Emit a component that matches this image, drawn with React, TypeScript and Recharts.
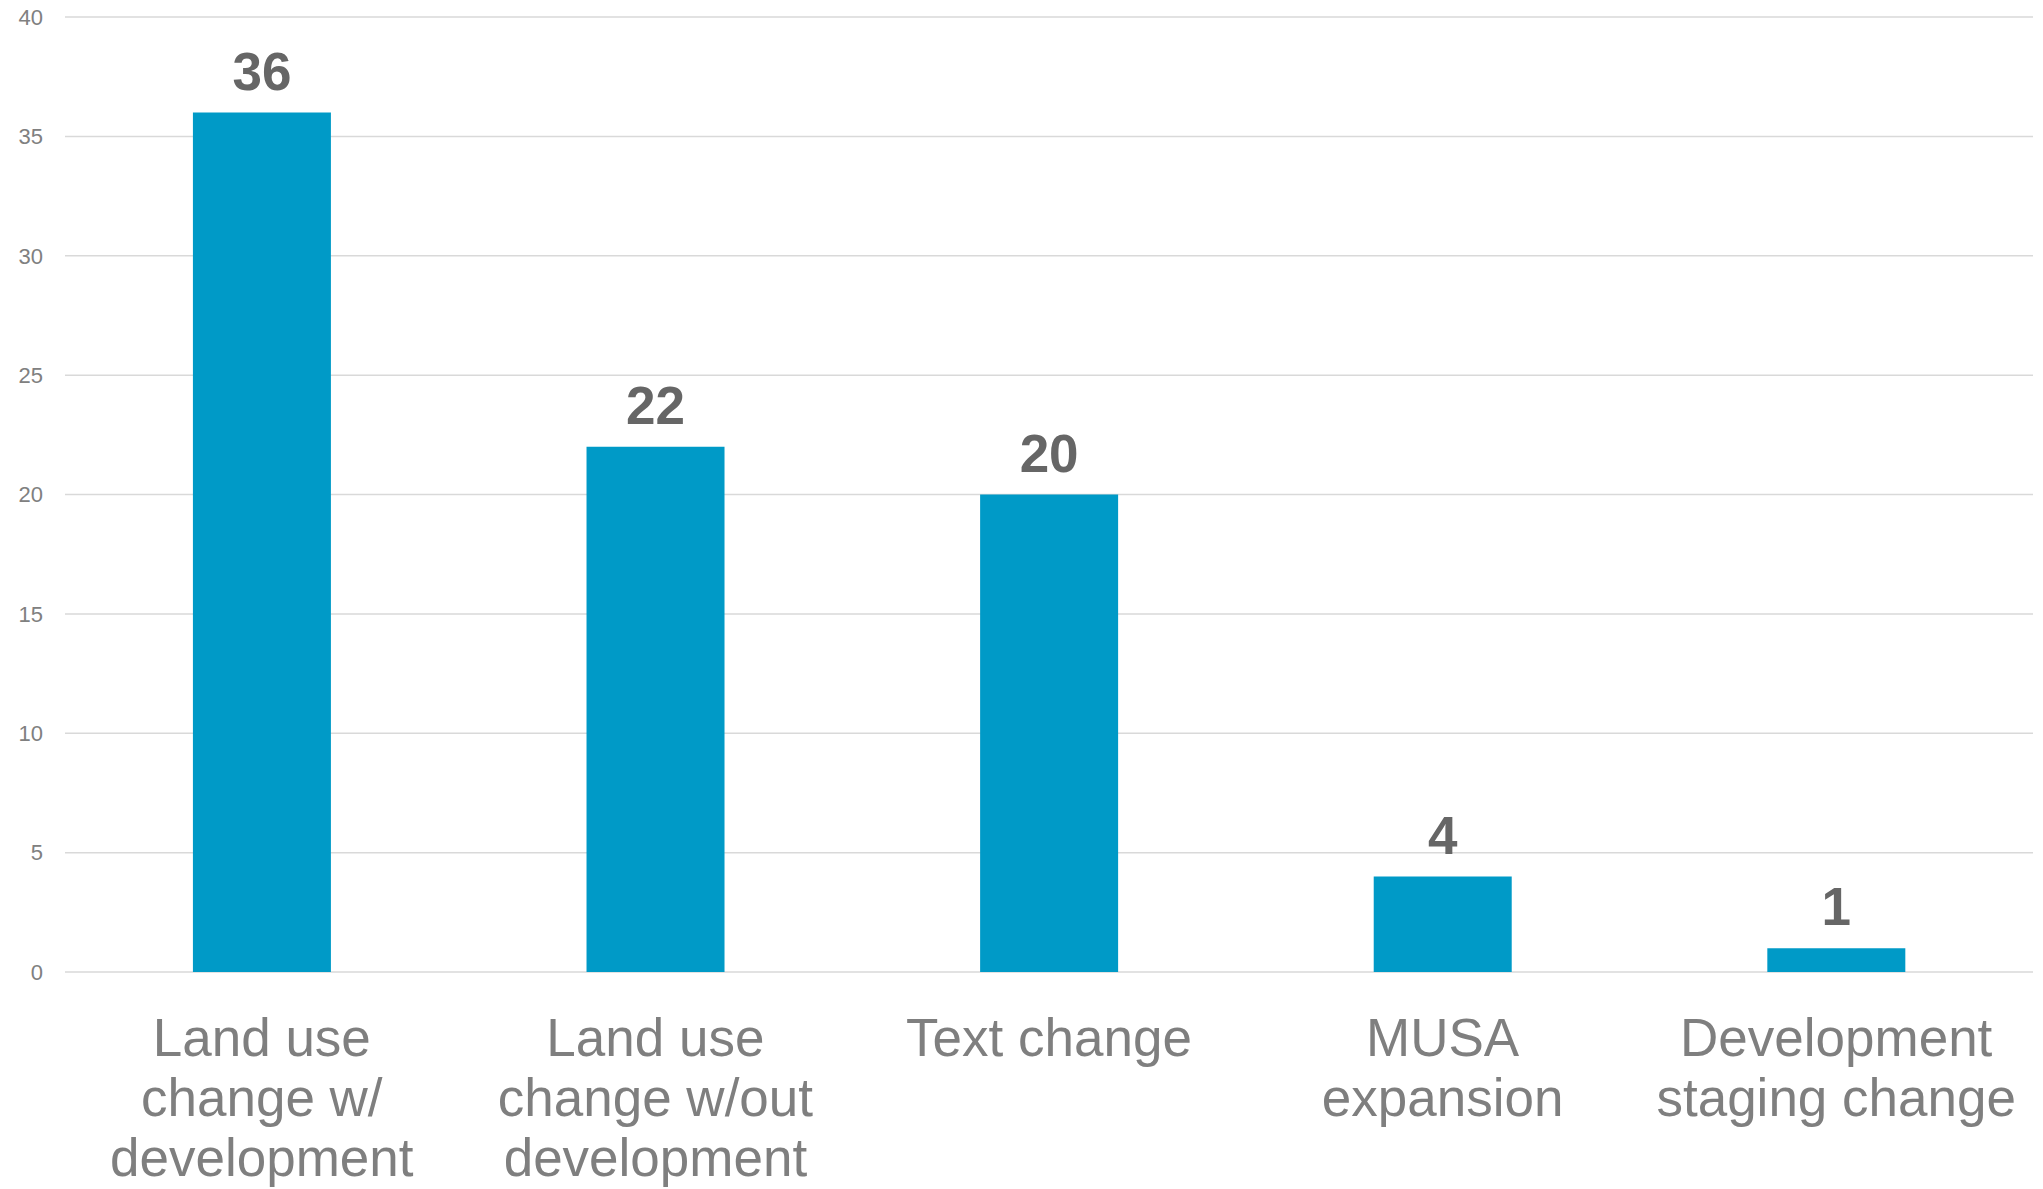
import React from 'react';
import { BarChart, Bar, XAxis, YAxis, CartesianGrid, LabelList } from 'recharts';

const categories = [
  'Land use change w/ development',
  'Land use change w/out development',
  'Text change',
  'MUSA expansion',
  'Development staging change',
];
const labelLines = [
  ['Land use', 'change w/', 'development'],
  ['Land use', 'change w/out', 'development'],
  ['Text change'],
  ['MUSA', 'expansion'],
  ['Development', 'staging change'],
];
const counts = [36, 22, 20, 4, 1];
const yTicks = [0, 5, 10, 15, 20, 25, 30, 35, 40];

const data = categories.map((name, i) => ({ name, idx: i, count: counts[i] }));

const FONT = '"Liberation Sans", Arial, sans-serif';

function CategoryTick(props: any) {
  const { x, y, payload } = props;
  const lines = labelLines[payload.index] || [payload.value];
  return (
    <text x={x} y={y + 76} textAnchor="middle" fill="#7f7f7f" fontSize={53} fontFamily={FONT}>
      {lines.map((ln: string, i: number) => (
        <tspan key={i} x={x} dy={i === 0 ? 0 : 60}>{ln}</tspan>
      ))}
    </text>
  );
}

export default function App() {
  return (
    <div style={{ position: 'absolute', left: 0, top: 0, background: '#fff' }}>
      <BarChart
        width={2043}
        height={1189}
        data={data}
        margin={{ top: 17, right: 10, bottom: 0, left: 0 }}
        barCategoryGap="32.5%"
      >
        <CartesianGrid vertical={false} stroke="#d9d9d9" strokeWidth={1.5} />
        <XAxis
          dataKey="name"
          height={217}
          axisLine={false}
          tickLine={false}
          interval={0}
          tick={<CategoryTick />}
        />
        <YAxis
          width={65}
          domain={[0, 40]}
          ticks={yTicks}
          axisLine={false}
          tickLine={false}
          tickSize={0}
          tickMargin={22}
          tick={{ fill: '#808080', fontSize: 22, fontFamily: FONT }}
        />
        <Bar dataKey="count" fill="#009ac7" isAnimationActive={false}>
          <LabelList
            dataKey="count"
            position="top"
            offset={23}
            fill="#666666"
            fontSize={53}
            fontWeight="bold"
            fontFamily={FONT}
          />
        </Bar>
      </BarChart>
    </div>
  );
}
